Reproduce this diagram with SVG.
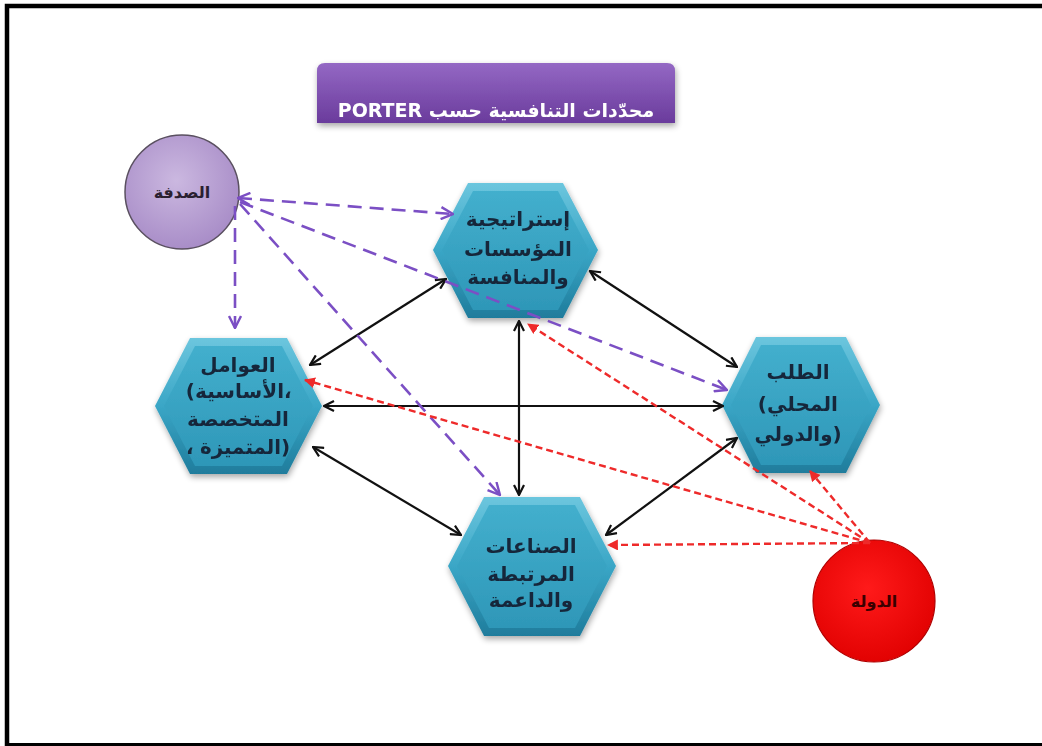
<svg xmlns="http://www.w3.org/2000/svg" width="1042" height="746" viewBox="0 0 1042 746">
  <defs>
    <style>
      .hex-out { fill: url(#hexEdge); }
      .hex-in { fill: url(#hexFace); }
      .lbl { font-family: "DejaVu Sans", sans-serif; font-weight: bold; font-size: 20px; fill: #16283a; text-anchor: middle; }
      .pl { text-anchor: end; direction: ltr; }
      .pr { text-anchor: start; direction: ltr; }
      .both { stroke: #111; stroke-width: 2.2; fill: none; marker-start: url(#openHead); marker-end: url(#openHead); }
      .chance { stroke: #7b4fc4; stroke-width: 2.6; fill: none; stroke-dasharray: 14 8; marker-end: url(#purpleHead); }
      .state { stroke: #ee2a2a; stroke-width: 2.4; fill: none; stroke-dasharray: 7 4; marker-end: url(#redHead); }
    </style>
    <linearGradient id="hexEdge" x1="0" y1="0" x2="0" y2="1">
      <stop offset="0" stop-color="#6cc6de"/>
      <stop offset="0.5" stop-color="#3aa6c6"/>
      <stop offset="1" stop-color="#1f7c9c"/>
    </linearGradient>
    <linearGradient id="hexFace" x1="0" y1="0" x2="0" y2="1">
      <stop offset="0" stop-color="#43afcd"/>
      <stop offset="1" stop-color="#2e97b8"/>
    </linearGradient>
    <linearGradient id="titleFill" x1="0" y1="0" x2="0" y2="1">
      <stop offset="0" stop-color="#9468c4"/>
      <stop offset="1" stop-color="#6a3b9c"/>
    </linearGradient>
    <radialGradient id="chanceFill" cx="0.45" cy="0.4" r="0.65">
      <stop offset="0" stop-color="#cbb8e0"/>
      <stop offset="1" stop-color="#a68ac6"/>
    </radialGradient>
    <radialGradient id="stateFill" cx="0.45" cy="0.4" r="0.65">
      <stop offset="0" stop-color="#ff1a1a"/>
      <stop offset="1" stop-color="#e00000"/>
    </radialGradient>
    <filter id="soft" x="-20%" y="-20%" width="140%" height="140%">
      <feGaussianBlur in="SourceAlpha" stdDeviation="3"/>
      <feOffset dx="1" dy="3"/>
      <feComponentTransfer><feFuncA type="linear" slope="0.35"/></feComponentTransfer>
      <feMerge><feMergeNode/><feMergeNode in="SourceGraphic"/></feMerge>
    </filter>
    <marker id="openHead" viewBox="0 0 12 12" refX="11" refY="6" markerWidth="12" markerHeight="12" markerUnits="userSpaceOnUse" orient="auto-start-reverse">
      <path d="M1,1 L11,6 L1,11" fill="none" stroke="#111" stroke-width="2.2"/>
    </marker>
    <marker id="purpleHead" viewBox="0 0 14 14" refX="13" refY="7" markerWidth="14" markerHeight="14" markerUnits="userSpaceOnUse" orient="auto-start-reverse">
      <path d="M1,1 L13,7 L1,13" fill="none" stroke="#7b4fc4" stroke-width="2.4"/>
    </marker>
    <marker id="redHead" viewBox="0 0 10 10" refX="9" refY="5" markerWidth="11" markerHeight="11" markerUnits="userSpaceOnUse" orient="auto">
      <path d="M0,0 L10,5 L0,10 Z" fill="#ee2a2a"/>
    </marker>
  </defs>

  <rect width="1042" height="746" fill="#ffffff"/>
  <!-- page frame -->
  <path d="M7,746 L7,6 L1042,6" fill="none" stroke="#000" stroke-width="4.5"/>
  <line x1="5" y1="744.5" x2="1042" y2="744.5" stroke="#000" stroke-width="3"/>

  <!-- title banner -->
  <g id="title" filter="url(#soft)">
    <path d="M317,123 L317,71 Q317,63 325,63 L667,63 Q675,63 675,71 L675,123 Z" fill="url(#titleFill)"/>
    <text x="496" y="117" direction="rtl" font-family="DejaVu Sans, sans-serif" font-weight="bold" font-size="19" fill="#ffffff" text-anchor="middle">&#x202B;محدّدات التنافسية حسب PORTER&#x202C;</text>
  </g>

  <!-- chance -->
  <g id="chance">
    <circle cx="182" cy="192" r="57" fill="url(#chanceFill)" stroke="#5a5060" stroke-width="1.5"/>
    <text x="182" y="198" font-family="DejaVu Sans, sans-serif" font-weight="bold" font-size="16" fill="#2a2030" text-anchor="middle">الصدفة</text>
  </g>

  <!-- firm strategy and rivalry -->
  <g id="strategy" filter="url(#soft)">
    <polygon class="hex-out" points="468,183 563,183 598,250 563,318 468,318 433,250"/>
    <polygon class="hex-in" points="473,191 558,191 589,250 558,310 473,310 442,250"/>
    <text class="lbl" x="518" y="226">إستراتيجية</text>
    <text class="lbl" x="518" y="256">المؤسسات</text>
    <text class="lbl" x="518" y="284">والمنافسة</text>
  </g>

  <!-- factor conditions: brackets and commas are set apart from the words -->
  <g id="factors" filter="url(#soft)">
    <polygon class="hex-out" points="190,338 287,338 322,406 287,474 190,474 155,406"/>
    <polygon class="hex-in" points="195,346 282,346 313,406 282,466 195,466 164,406"/>
    <text class="lbl" x="238" y="372">العوامل</text>
    <text class="lbl pl" x="195" y="398">(</text>
    <text class="lbl" x="239.5" y="398" textLength="89" lengthAdjust="spacingAndGlyphs">الأساسية</text>
    <text class="lbl pr" x="284" y="398">،</text>
    <text class="lbl" x="238" y="426">المتخصصة</text>
    <text class="lbl pr" x="186" y="454">،</text>
    <text class="lbl" x="240.5" y="454" textLength="81" lengthAdjust="spacingAndGlyphs">المتميزة</text>
    <text class="lbl pr" x="281" y="454">)</text>
  </g>

  <!-- demand conditions -->
  <g id="demand" filter="url(#soft)">
    <polygon class="hex-out" points="756,337 846,337 880,405 846,473 756,473 722,405"/>
    <polygon class="hex-in" points="761,345 841,345 871,405 841,465 761,465 731,405"/>
    <text class="lbl" x="798" y="379">الطلب</text>
    <text class="lbl pl" x="767" y="411">(</text>
    <text class="lbl" x="802.5" y="411" textLength="71" lengthAdjust="spacingAndGlyphs">المحلي</text>
    <text class="lbl" x="793.5" y="441" textLength="78" lengthAdjust="spacingAndGlyphs">والدولي</text>
    <text class="lbl pr" x="832.5" y="441">)</text>
  </g>

  <!-- related and supporting industries -->
  <g id="industries" filter="url(#soft)">
    <polygon class="hex-out" points="484,497 580,497 616,566 580,636 484,636 448,566"/>
    <polygon class="hex-in" points="489,505 575,505 607,566 575,628 489,628 457,566"/>
    <text class="lbl" x="531" y="553">الصناعات</text>
    <text class="lbl" x="531" y="581">المرتبطة</text>
    <text class="lbl" x="531" y="607">والداعمة</text>
  </g>

  <!-- government -->
  <g id="government">
    <circle cx="874" cy="601" r="61" fill="url(#stateFill)" stroke="#b00000" stroke-width="1.2"/>
    <text x="874" y="607" font-family="DejaVu Sans, sans-serif" font-weight="bold" font-size="16" fill="#3a0000" text-anchor="middle">الدولة</text>
  </g>

  <!-- connectors, drawn over the nodes -->
  <g id="connectors">
    <line class="both" x1="446" y1="279" x2="310" y2="365"/>
    <line class="both" x1="590" y1="271" x2="737" y2="367"/>
    <line class="both" x1="519" y1="321" x2="519" y2="495"/>
    <line class="both" x1="324" y1="406" x2="723" y2="406"/>
    <line class="both" x1="313" y1="447" x2="461" y2="535"/>
    <line class="both" x1="737" y1="438" x2="606" y2="535"/>

    <line class="chance" x1="238" y1="198" x2="453" y2="214" style="marker-start:url(#purpleHead)"/>
    <line class="chance" x1="235" y1="206" x2="235" y2="328"/>
    <line class="chance" x1="240" y1="202" x2="727" y2="390"/>
    <line class="chance" x1="240" y1="204" x2="500" y2="495"/>

    <line class="state" x1="870" y1="543" x2="528" y2="324"/>
    <line class="state" x1="870" y1="543" x2="305" y2="380"/>
    <line class="state" x1="870" y1="543" x2="810" y2="471"/>
    <line class="state" x1="870" y1="543" x2="608" y2="545"/>
  </g>
</svg>
